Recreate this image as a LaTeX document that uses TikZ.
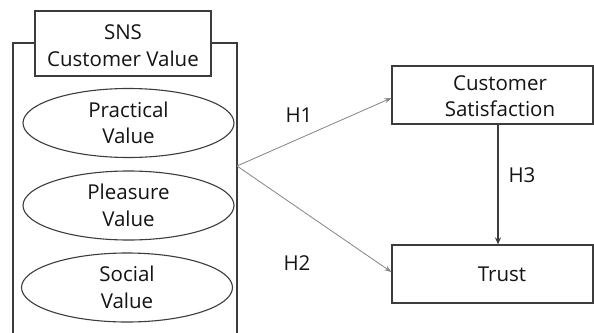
\documentclass[tikz,border=0pt]{standalone}
\usepackage{fontspec}
\setmainfont{Open Sans}
\usetikzlibrary{arrows.meta,shapes.geometric,calc}
\definecolor{edgec}{HTML}{3C3C3C}
\definecolor{thinc}{HTML}{858585}
\definecolor{txtc}{HTML}{141414}
\begin{document}
\begin{tikzpicture}[x=1pt,y=-1pt,
  every node/.style={text=txtc, font=\fontsize{20.5}{26.5}\selectfont},
  boxst/.style={draw=edgec, line width=1.2pt, fill=white, rectangle, inner sep=0pt},
  ellst/.style={draw=edgec, line width=1.1pt, ellipse, inner sep=0pt, minimum width=211pt, minimum height=69pt, align=center},
  lbl/.style={inner sep=0pt, align=center},
  framest/.style={draw=edgec, line width=1.1pt},
  thinarrow/.style={draw=thinc, line width=0.8pt, -{Stealth[length=7pt,width=5pt]}, shorten >=0pt},
  mainarrow/.style={draw=edgec, line width=1.2pt, -{Stealth[length=7pt,width=6pt]}}
]
\useasboundingbox (0,0) rectangle (594,332);
\fill[white] (0,0) rectangle (594,332);
% outer frame (open at bottom)
\draw[framest] (13,333) -- (13,43) -- (237,43) -- (237,333);
% title box
\node[boxst, minimum width=176pt, minimum height=65pt] (title) at (123,43.5) {};
\node[lbl] (titlel) at (123,45.5) {SNS\\Customer Value};
% ellipses
\node[ellst] (prac) at (128.5,123) {Practical\\Value};
\node[ellst] (plea) at (128.5,205.5) {Pleasure\\Value};
\node[ellst] (soci) at (127,287.5) {Social\\Value};
% right boxes
\node[boxst, minimum width=201pt, minimum height=58pt] (cs) at (492.5,95) {};
\node[lbl] (csl) at (500,96) {Customer\\Satisfaction};
\node[boxst, minimum width=201pt, minimum height=58pt] (tr) at (492.5,274) {};
\node[lbl] (trl) at (502,274) {Trust};
% origin of arrows
\coordinate (orig) at (237,166);
\draw[thinarrow] (orig) -- ($(cs.west)+(0,3)$);
\draw[thinarrow] (orig) -- ($(tr.west)+(0,-2)$);
\draw[mainarrow] ($(cs.south)+(5.5,0)$) -- ($(tr.north)+(5.5,0)$);
% hypothesis labels
\node[lbl] (h1) at (299,115) {H1};
\node[lbl] (h2) at (297,263) {H2};
\node[lbl] (h3) at (522,175) {H3};
\end{tikzpicture}
\end{document}
